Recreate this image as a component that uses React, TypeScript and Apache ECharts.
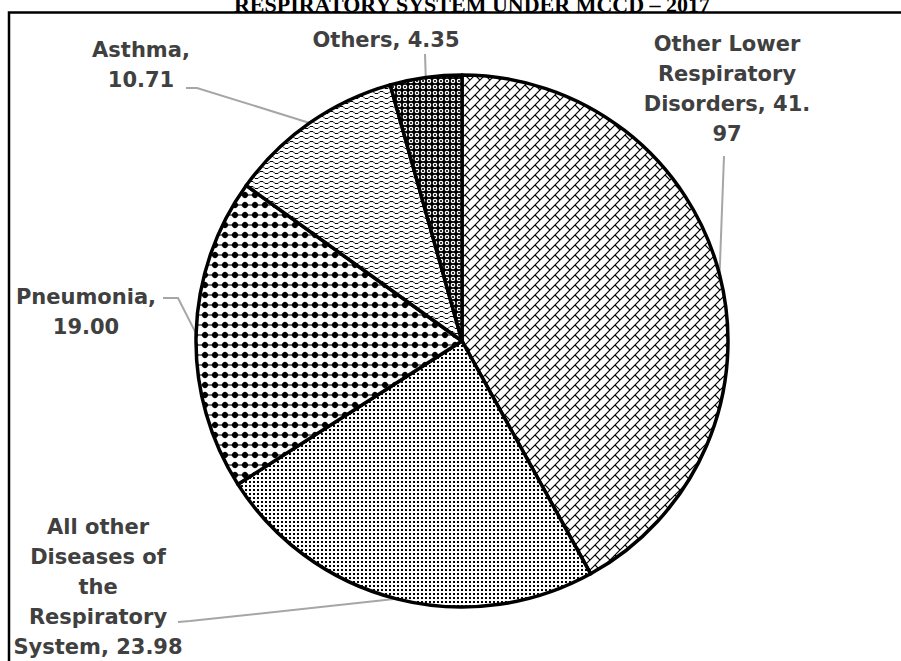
import React, { useEffect, useRef } from "react";
import * as echarts from "echarts";

const TITLE = "RESPIRATORY SYSTEM UNDER MCCD – 2017";

const categories = [
  "Other Lower Respiratory Disorders",
  "All other Diseases of the Respiratory System",
  "Pneumonia",
  "Asthma",
  "Others",
];
const values = [41.97, 23.98, 19.0, 10.71, 4.35];
const labelTexts = [
  "Other Lower\nRespiratory\nDisorders, 41.\n97",
  "All other\nDiseases of\nthe\nRespiratory\nSystem, 23.98",
  "Pneumonia,\n19.00",
  "Asthma,\n10.71",
  "Others, 4.35",
];

// label placement (layout only)
const labelAnchors: { x: number; y: number; line: number[][] }[] = [
  { x: 727, y: 89, line: [[724, 156]] },
  { x: 98, y: 587, line: [[178, 622], [190, 621]] },
  { x: 86, y: 312, line: [[163, 298], [178, 298]] },
  { x: 141, y: 65, line: [[186, 88], [197, 88]] },
  { x: 386, y: 40, line: [[425, 54]] },
];

type Ctx = CanvasRenderingContext2D;

function makeTile(w: number, h: number, draw: (ctx: Ctx, ox: number, oy: number) => void) {
  const c = document.createElement("canvas");
  c.width = w;
  c.height = h;
  const ctx = c.getContext("2d") as Ctx;
  ctx.fillStyle = "#fff";
  ctx.fillRect(0, 0, w, h);
  ctx.fillStyle = "#000";
  ctx.strokeStyle = "#000";
  for (const ox of [-w, 0, w]) {
    for (const oy of [-h, 0, h]) {
      draw(ctx, ox, oy);
    }
  }
  return c;
}

function buildPatterns() {
  const brick = makeTile(10, 10, (ctx, ox, oy) => {
    ctx.lineWidth = 1.2;
    ctx.beginPath();
    ctx.moveTo(ox + 0, oy + 10);
    ctx.lineTo(ox + 10, oy + 0);
    ctx.moveTo(ox + 5, oy + 5);
    ctx.lineTo(ox + 10, oy + 10);
    ctx.stroke();
  });
  const dots = makeTile(4, 4, (ctx, ox, oy) => {
    if (ox === 0 && oy === 0) ctx.fillRect(1, 1, 2, 2);
  });
  const diamonds = makeTile(10, 10, (ctx, ox, oy) => {
    ctx.beginPath();
    ctx.moveTo(ox + 5, oy + 1.4);
    ctx.lineTo(ox + 8.6, oy + 5);
    ctx.lineTo(ox + 5, oy + 8.6);
    ctx.lineTo(ox + 1.4, oy + 5);
    ctx.closePath();
    ctx.fill();
    ctx.beginPath();
    ctx.arc(ox + 5, oy + 5, 2.9, 0, Math.PI * 2);
    ctx.fill();
    if (ox === 0 && oy === 0) {
      ctx.fillRect(0, 4.5, 10, 1);
    }
  });
  const wave = makeTile(10, 5, (ctx, ox, oy) => {
    ctx.lineWidth = 1;
    ctx.beginPath();
    ctx.moveTo(ox + 0, oy + 1.5);
    ctx.lineTo(ox + 3, oy + 1.5);
    ctx.lineTo(ox + 5, oy + 3.5);
    ctx.lineTo(ox + 8, oy + 3.5);
    ctx.lineTo(ox + 10, oy + 1.5);
    ctx.stroke();
  });
  const sphere = makeTile(6, 6, (ctx, ox, oy) => {
    if (ox !== 0 || oy !== 0) return;
    ctx.fillRect(0, 0, 6, 6);
    ctx.fillStyle = "#fff";
    ctx.beginPath();
    ctx.arc(3, 3, 2.3, 0, Math.PI * 2);
    ctx.fill();
    ctx.fillStyle = "#000";
    ctx.beginPath();
    ctx.arc(3, 3, 1.1, 0, Math.PI * 2);
    ctx.fill();
  });
  return [brick, dots, diamonds, wave, sphere];
}

export default function App() {
  const ref = useRef<HTMLDivElement>(null);

  useEffect(() => {
    if (!ref.current) return;
    const chart = echarts.init(ref.current, undefined, { renderer: "svg" });
    const tiles = buildPatterns();

    const option: any = {
      animation: false,
      backgroundColor: "#fff",
      title: {
        text: TITLE,
        left: 467,
        top: -12,
        textAlign: "center",
        textStyle: {
          fontFamily: "Liberation Serif",
          fontWeight: "bold",
          fontSize: 22,
          color: "#000",
        },
      },
      graphic: [
        {
          type: "rect",
          silent: true,
          shape: { x: 9, y: 12.5, width: 1000, height: 1000 },
          style: { fill: "none", stroke: "#000", lineWidth: 2.5 },
        },
      ],
      series: [
        {
          type: "pie",
          center: [462, 341],
          radius: 266,
          startAngle: 90,
          clockwise: true,
          avoidLabelOverlap: false,
          silent: true,
          data: categories.map((name, i) => ({
            name,
            value: values[i],
            itemStyle: {
              color: { image: tiles[i], repeat: "repeat" },
              borderColor: "#000",
              borderWidth: 3.5,
            },
          })),
          label: {
            show: true,
            position: "outside",
            formatter: (p: any) => labelTexts[p.dataIndex],
            color: "#404040",
            fontFamily: "DejaVu Sans",
            fontWeight: "bold",
            fontSize: 21,
            lineHeight: 30,
            align: "center",
          },
          labelLine: {
            show: true,
            smooth: false,
            lineStyle: { color: "#a6a6a6", width: 2 },
          },
          labelLayout: (p: any) => {
            const i = p.dataIndex;
            const a = labelAnchors[i];
            const edge = p.labelLinePoints && p.labelLinePoints[0];
            const pts = edge ? [...a.line, [edge[0], edge[1]]] : a.line;
            return {
              x: a.x,
              y: a.y,
              align: "center",
              verticalAlign: "middle",
              labelLinePoints: pts,
            };
          },
        },
      ],
    };

    chart.setOption(option);
    return () => chart.dispose();
  }, []);

  return (
    <div
      ref={ref}
      style={{ position: "absolute", left: 0, top: 0, width: 901, height: 661, background: "#fff" }}
    />
  );
}
